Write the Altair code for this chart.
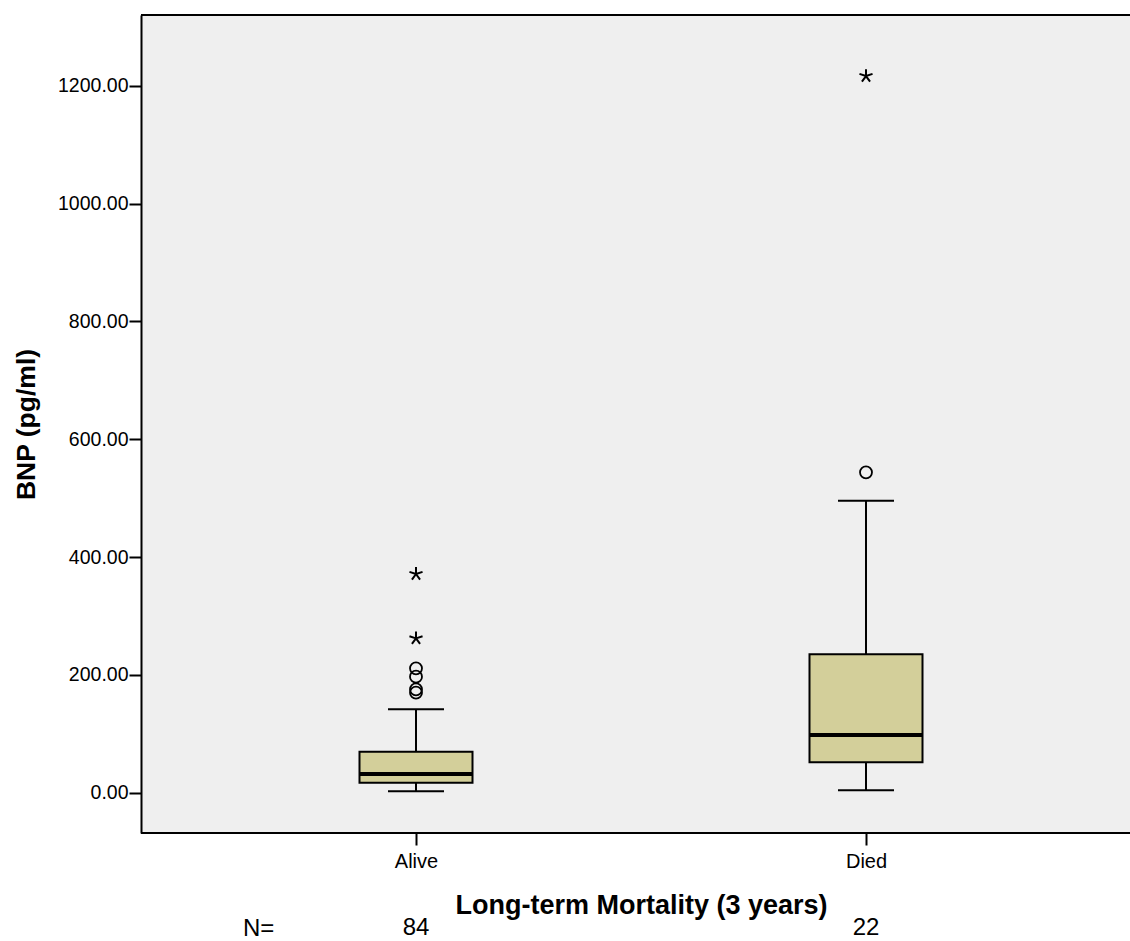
import altair as alt
import pandas as pd

# ---- data ----
groups = ["Alive", "Died"]
q1 = [17.0, 51.6]
medians = [31.7, 97.9]
q3 = [69.6, 234.9]
whisker_low = [2.4, 4.1]
whisker_high = [141.5, 495.6]
counts = [84, 22]

outlier_groups = ["Alive", "Alive", "Alive", "Alive", "Died"]
outlier_values = [211.1, 196.9, 175.5, 169.7, 543.8]

extreme_groups = ["Alive", "Alive", "Died"]
extreme_values = [371.2, 262.0, 1216.4]

y_ticks = [0, 200, 400, 600, 800, 1000, 1200]

# ---- tables ----
box_df = pd.DataFrame({
    "group": groups, "q1": q1, "median": medians, "q3": q3,
    "lo": whisker_low, "hi": whisker_high, "n": [str(c) for c in counts],
})
out_df = pd.DataFrame({"group": outlier_groups, "value": outlier_values})
ext_df = pd.DataFrame({"group": extreme_groups, "value": extreme_values})

W, H = 989, 818
FONT = "Liberation Sans"
STAR = "M0,0L0,-1M0,0L0.95,-0.31M0,0L0.59,0.81M0,0L-0.59,0.81M0,0L-0.95,-0.31"

xscale = alt.Scale(type="point", domain=groups, range=[275, 725], padding=0)
xaxis = alt.Axis(
    title="Long-term Mortality (3 years)", labelAngle=0, domain=False, grid=False,
    tickSize=12, tickWidth=2, tickColor="black",
    labelFontSize=20, labelPadding=6, labelColor="black", labelFont=FONT,
    titleFont=FONT, titleFontSize=27, titleFontWeight="bold", titleColor="black",
    titleX=500, titleY=59,
)
yscale = alt.Scale(domain=[-68.4, 1320], nice=False, zero=False)
yaxis = alt.Axis(
    title="BNP (pg/ml)", values=y_ticks, format=".2f", grid=False,
    domain=True, domainColor="black", domainWidth=2,
    tickSize=12, tickWidth=2, tickColor="black",
    labelFontSize=19.5, labelPadding=1, labelColor="black", labelFont=FONT,
    titleFont=FONT, titleFontSize=26.5, titleFontWeight="bold", titleColor="black",
    titleX=-101, titleY=409,
)


def X():
    return alt.X("group:N", scale=xscale, axis=xaxis)


def Y(field):
    return alt.Y(field, type="quantitative", scale=yscale, axis=yaxis)


base = alt.Chart(box_df)

whiskers = base.mark_rule(color="black", strokeWidth=2, opacity=1).encode(
    x=X(), y=Y("lo"), y2="hi")
boxes = base.mark_bar(size=113, fill="#D3CF9A", stroke="black", strokeWidth=2,
                      opacity=1).encode(x=X(), y=Y("q1"), y2="q3")
median_line = base.mark_tick(size=113, thickness=4, color="black", opacity=1).encode(
    x=X(), y=Y("median"))
cap_lo = base.mark_tick(size=56, thickness=2, color="black", opacity=1).encode(
    x=X(), y=Y("lo"))
cap_hi = base.mark_tick(size=56, thickness=2, color="black", opacity=1).encode(
    x=X(), y=Y("hi"))

outliers = alt.Chart(out_df).mark_point(
    shape="circle", size=144, filled=False, stroke="black", strokeWidth=1.8, opacity=1
).encode(x=X(), y=Y("value"))

extremes = alt.Chart(ext_df).mark_point(
    shape=STAR, size=190, filled=False, stroke="black", strokeWidth=2, opacity=1
).encode(x=X(), y=Y("value"))

n_text = base.mark_text(
    fontSize=24, font=FONT, baseline="alphabetic", align="center", color="black"
).encode(x=X(), y=alt.value(920), text="n:N")

n_label = alt.Chart(pd.DataFrame({"label": ["N="]})).mark_text(
    fontSize=24, font=FONT, baseline="alphabetic", align="left", color="black"
).encode(x=alt.value(102), y=alt.value(921), text="label:N")

frame_top = alt.Chart(pd.DataFrame({"a": [0]})).mark_rule(
    color="black", strokeWidth=2).encode(x=alt.value(0), x2=alt.value(W), y=alt.value(0))
frame_bottom = alt.Chart(pd.DataFrame({"a": [0]})).mark_rule(
    color="black", strokeWidth=2).encode(x=alt.value(0), x2=alt.value(W), y=alt.value(H))

chart = alt.layer(
    whiskers, boxes, median_line, cap_lo, cap_hi, outliers, extremes,
    n_text, n_label, frame_top, frame_bottom,
).properties(
    width=W, height=H,
    autosize=alt.AutoSizeParams(type="none"),
    padding={"left": 141, "top": 15, "right": 0, "bottom": 108},
    background="white",
).configure_view(fill="#EFEFEF", stroke=None)

chart.save("out.html", embed_options={"renderer": "svg", "actions": False})
